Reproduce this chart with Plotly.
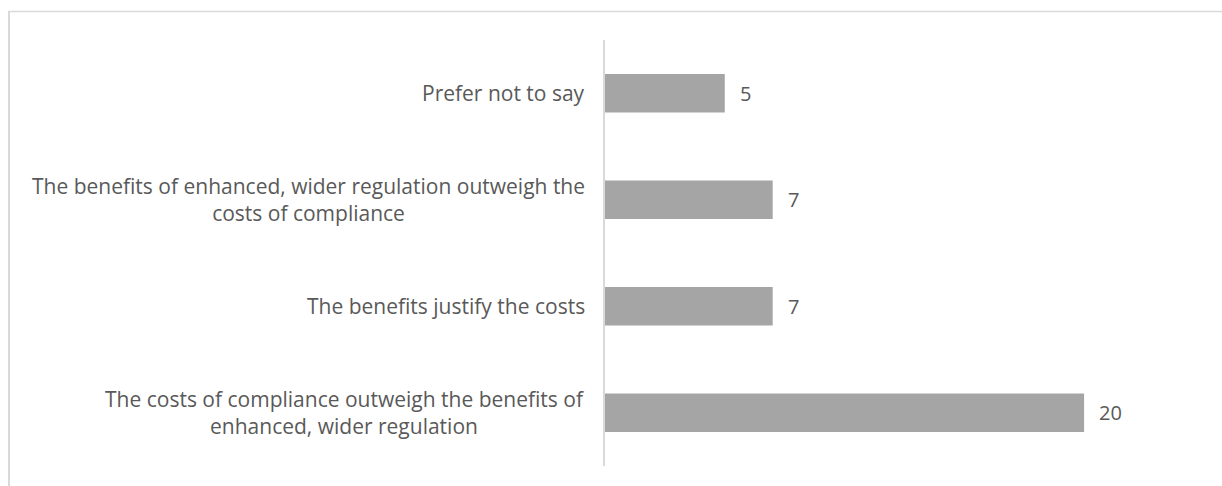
import plotly.graph_objects as go

# Survey responses (top to bottom as drawn)
categories = [
    "Prefer not to say",
    "The benefits of enhanced, wider regulation outweigh the<br>costs of compliance",
    "The benefits justify the costs",
    "The costs of compliance outweigh the benefits of<br>enhanced, wider regulation",
]
counts = [5, 7, 7, 20]

W, H = 1222, 486
ML, MR, MT, MB = 605, 90, 40, 20
X_MAX = 22

BAR = "#A5A5A5"
TEXT = "#595959"
GRID = "#D9D9D9"
FONT = "Open Sans"
FS = 21

fig = go.Figure(
    go.Bar(
        y=list(range(len(categories))),
        x=counts,
        orientation="h",
        marker=dict(color=BAR, line=dict(width=0)),
        width=0.36,
        hoverinfo="skip",
    )
)

# value labels to the right of each bar
for i, v in enumerate(counts):
    fig.add_annotation(
        x=v, y=i, xref="x", yref="y", text=str(v), showarrow=False,
        xanchor="left", xshift=13, font=dict(family=FONT, size=FS - 1, color=TEXT),
    )

# category labels, centred multi-line text right-aligned to the axis
for i, c in enumerate(categories):
    fig.add_annotation(
        x=0, y=i, xref="paper", yref="y", text=c, showarrow=False,
        xanchor="right", xshift=-18, align="center",
        font=dict(family=FONT, size=FS, color=TEXT),
    )

# outer frame (left and top edges)
pw = W - ML - MR
ph = H - MT - MB
def px_x(p):
    return (p - ML) / pw
def px_y(p):
    return 1 - (p - MT) / ph

fig.add_shape(type="line", xref="paper", yref="paper",
              x0=px_x(9), x1=px_x(9), y0=px_y(11), y1=px_y(H + 5),
              line=dict(color=GRID, width=2))
fig.add_shape(type="line", xref="paper", yref="paper",
              x0=px_x(8), x1=px_x(W + 5), y0=px_y(11.5), y1=px_y(11.5),
              line=dict(color=GRID, width=1.5))

fig.update_layout(
    width=W, height=H,
    margin=dict(l=ML, r=MR, t=MT, b=MB),
    paper_bgcolor="white", plot_bgcolor="white",
    showlegend=False,
    xaxis=dict(range=[0, X_MAX], visible=False, fixedrange=True),
    yaxis=dict(
        range=[len(categories) - 0.5, -0.5],
        showticklabels=False, showgrid=False, zeroline=False,
        showline=True, linecolor=GRID, linewidth=2, ticks="",
        fixedrange=True,
    ),
)

fig.write_html("out.html")
